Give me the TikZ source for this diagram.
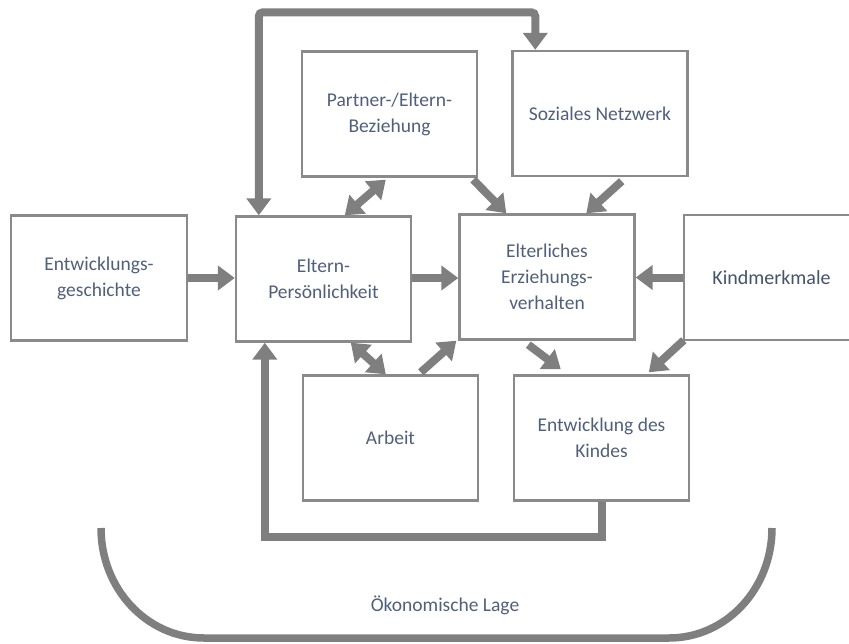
\documentclass[tikz,border=0pt]{standalone}
\usepackage{fontspec}
\setmainfont{Carlito}
\usetikzlibrary{arrows.meta,calc}
\definecolor{linegray}{HTML}{7F7F7F}
\definecolor{boxgray}{HTML}{8A8A8A}
\definecolor{txt}{HTML}{51607A}
\definecolor{txtdark}{HTML}{44546A}
\begin{document}
\begin{tikzpicture}[x=1pt,y=-1pt,
  box/.style={draw=boxgray, line width=2.4pt, fill=white, minimum width=175pt,
    minimum height=125pt, align=center, text=txt, inner sep=0pt,
    font=\fontsize{19.5}{26}\selectfont},
  arr/.style={draw=linegray, line width=8pt,
    -{Triangle[width=24pt,length=17pt]}},
  darr/.style={draw=linegray, line width=8pt,
    {Triangle[width=24pt,length=17pt]}-{Triangle[width=24pt,length=17pt]}},
  lbl/.style={text=txt, font=\fontsize{19.5}{26}\selectfont}]
\useasboundingbox (0,0) rectangle (849,643);
\clip (0,0) rectangle (849,643);

% boxes
\node[box, minimum width=176pt] (eg) at (99,278) {Entwicklungs-\\geschichte};
\node[box] (ep) at (323.5,279) {Eltern-\\Persönlichkeit};
\node[box] (pb) at (389.5,114) {Partner-/Eltern-\\Beziehung};
\node[box] (sn) at (600,113.5) {Soziales Netzwerk};
\node[box] (ev) at (547,277) {Elterliches\\Erziehungs-\\verhalten};
\node[box, text=txtdark, font=\fontsize{20}{26}\selectfont] (km) at (771.5,277.5) {Kindmerkmale};
\node[box] (ar) at (390.5,438) {Arbeit};
\node[box] (ek) at (601.5,438) {Entwicklung des\\Kindes};

% straight influences
\draw[arr] (eg.east) -- (eg.east -| ep.west);
\draw[arr] (eg.east -| ep.east) -- (eg.east -| ev.west);
\draw[arr] (km.west) -- (km.west -| ev.east);

% diagonal influences
\draw[darr] ($(ep.north west)+(110,0)$) -- ($(pb.south west)+(85,2)$);
\draw[arr] ($(pb.south east)+(-5,2)$) -- ($(ev.north west)+(48,0)$);
\draw[arr] ($(sn.south east)+(-67,4)$) -- ($(ev.north west)+(128,0)$);
\draw[darr] ($(ep.south west)+(116,0)$) -- ($(ar.north west)+(84,0)$);
\draw[arr] ($(ar.north west)+(119,-2)$) -- ($(ev.south west)+(-2,0)$);
\draw[arr] ($(ev.south west)+(70,4)$) -- ($(ek.north west)+(48,-5)$);
\draw[arr] ($(km.south west)+(1,-1)$) -- ($(ek.north west)+(136,-2)$);

% loop over the top
\draw[darr, rounded corners=4pt] ($(ep.north west)+(24,0)$) -- ++(0,-203)
  -| ($(sn.north west)+(24,0)$);

% feedback from the child's development
\draw[arr, line join=miter] ($(ek.south west)+(89,0)$) -- ++(0,35)
  -| ($(ep.south west)+(30,0)$);

% economic situation
\draw[linegray, line width=7.5pt] (101,528)
  .. controls (101,589) and (147,638) .. (204,638) -- (669,638)
  .. controls (726,638) and (772,589) .. (772,528);
\node[lbl] (ol) at (445,605) {Ökonomische Lage};
\end{tikzpicture}
\end{document}
